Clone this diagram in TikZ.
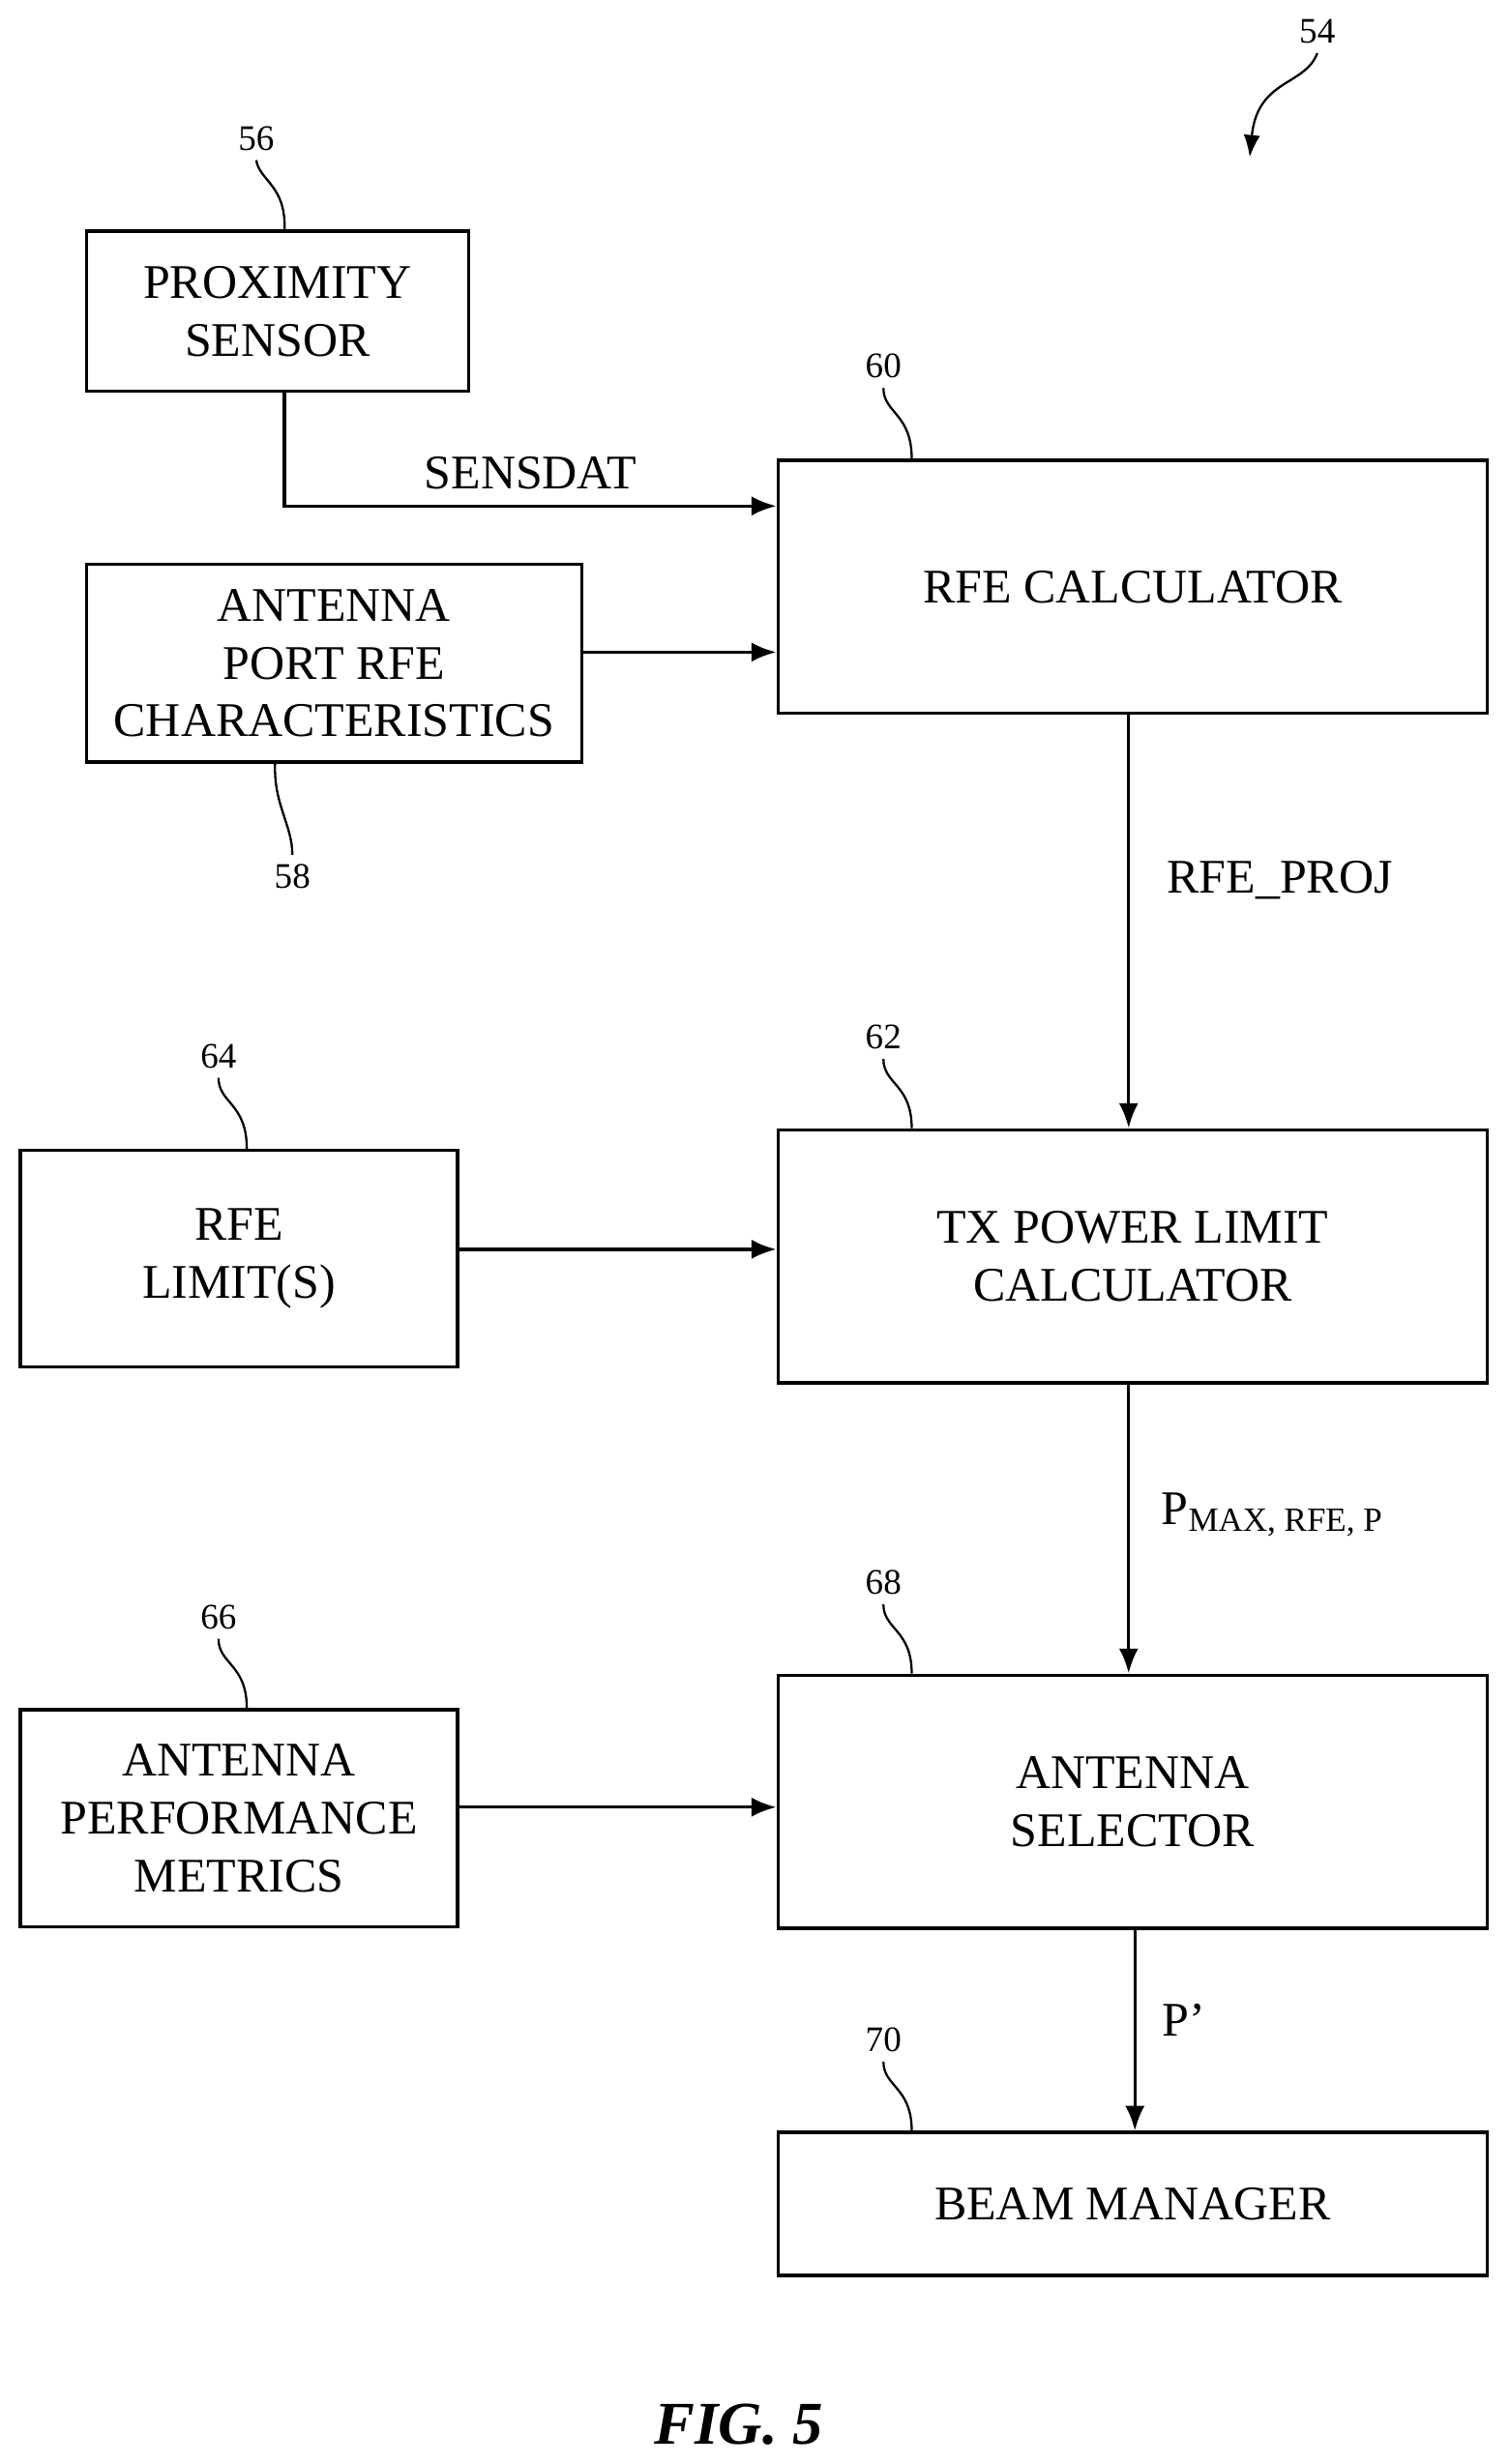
\documentclass[tikz,border=0pt]{standalone}
\usepackage{fontspec}
\setmainfont{Liberation Serif}
\usetikzlibrary{arrows.meta}
\begin{document}
\begin{tikzpicture}[x=0.02cm,y=-0.02cm,
  box/.style={draw,line width=1.2pt,align=center,font=\fontsize{17.5}{21}\selectfont},
  lbl/.style={font=\fontsize{17.5}{21}\selectfont},
  num/.style={font=\fontsize{13}{15}\selectfont},
  arr/.style={-{Latex[length=9pt,width=7pt]},line width=1.2pt},
  lead/.style={line width=0.8pt}]
\useasboundingbox (0,0) rectangle (960,1568);
\def\bx#1#2#3#4#5#6{\node[box,minimum width={(#4-#2)*0.02cm},minimum height={(#5-#3)*0.02cm},inner sep=0pt] (#1) at ({(#2+#4)/2},{(#3+#5)/2}) {#6};}
\bx{ps}{55}{147}{298}{249}{PROXIMITY\\SENSOR}
\bx{ap}{55}{359}{370}{485}{ANTENNA\\PORT RFE\\CHARACTERISTICS}
\bx{rc}{495}{293}{946}{454}{RFE CALCULATOR}
\bx{rl}{13}{732}{291}{870}{RFE\\LIMIT(S)}
\bx{tx}{495}{719}{946}{880}{TX POWER LIMIT\\CALCULATOR}
\bx{pm}{13}{1088}{291}{1226}{ANTENNA\\PERFORMANCE\\METRICS}
\bx{as}{495}{1066}{946}{1227}{ANTENNA\\SELECTOR}
\bx{bm}{495}{1357}{946}{1448}{BEAM MANAGER}
% connectors
\draw[arr] (ps.south -| 181,0) |- (rc.west |- 0,322) node[lbl,pos=0.75,above=2pt] {SENSDAT};
\draw[arr] (ap.east |- 0,415) -- (rc.west |- 0,415);
\draw[arr] (rc.south -| 718,0) -- node[lbl,right=10pt,pos=0.4] {RFE\_PROJ} (tx.north -| 718,0);
\draw[arr] (rl.east |- 0,795) -- (tx.west |- 0,795);
\draw[arr] (tx.south -| 718,0) -- node[lbl,right=8pt,pos=0.45] {P\textsubscript{MAX, RFE, P}} (as.north -| 718,0);
\draw[arr] (pm.east |- 0,1150) -- (as.west |- 0,1150);
\draw[arr] (as.south -| 722,0) -- node[lbl,right=6pt,pos=0.45] {P\symbol{39}} (bm.north -| 722,0);
% reference numerals
\node[num] (n56) at (163,88) {56};
\draw[lead] (n56.south) .. controls (165,115) and (182,118) .. (ps.north -| 181,0);
\node[num] (n58) at (186,558) {58};
\draw[lead] (n58.north) .. controls (186,525) and (174,512) .. (ap.south -| 175,0);
\foreach \n/\y/\b in {60/233/rc,62/660/tx,68/1007/as,70/1298/bm}{
  \node[num] (n\n) at (562,\y) {\n};
  \draw[lead] (n\n.south) .. controls (562,\y+30) and (580,\y+30) .. (\b.north -| 580,0);
}
\foreach \n/\y/\b in {64/672/rl,66/1029/pm}{
  \node[num] (n\n) at (139,\y) {\n};
  \draw[lead] (n\n.south) .. controls (139,\y+30) and (157,\y+30) .. (\b.north -| 157,0);
}
\node[num] (n54) at (838,20) {54};
\coordinate (a54) at (795,100);
\draw[lead,-{Latex[length=8pt,width=6pt]}] (n54.south) .. controls (830,55) and (800,50) .. (a54);
\node[font=\fontsize{22}{26}\selectfont\bfseries\itshape] (fig) at (470,1543) {FIG. 5};
\end{tikzpicture}
\end{document}
